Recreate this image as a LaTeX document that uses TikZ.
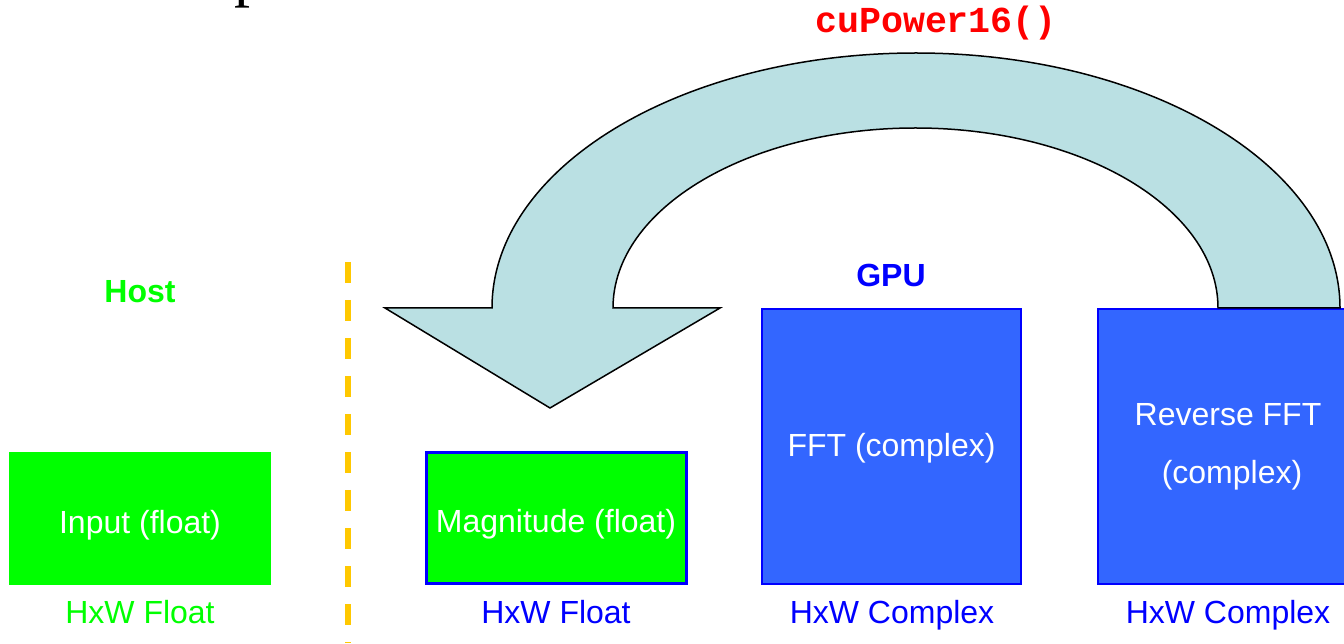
\documentclass[tikz,border=0pt]{standalone}
\usepackage{fontspec}
\setmainfont{Liberation Sans}
\newfontfamily\codefont{Liberation Mono}
\newfontfamily\seriffont{Liberation Serif}
\usepackage{xcolor}
\usepackage{tikz}
\definecolor{hostgreen}{HTML}{00FF00}
\definecolor{gpublue}{HTML}{3366FF}
\definecolor{edgeblue}{HTML}{0000FF}
\definecolor{arrowfill}{HTML}{BAE0E3}
\definecolor{sepgold}{HTML}{FFC800}
\definecolor{callred}{HTML}{FF0000}
\tikzset{
  buf/.style={inner sep=0pt, text=white, align=center,
              font=\fontsize{16}{29}\selectfont},
  floatbuf/.style={buf, fill=hostgreen, text height=14.5pt, text depth=0pt},
  cplxbuf/.style={buf, fill=gpublue, draw=edgeblue, line width=1pt,
                  minimum width=129.5pt, minimum height=137.5pt},
  lbl/.style={inner sep=0pt, anchor=base, font=\fontsize{16}{19}\selectfont},
  side/.style={lbl, font=\fontsize{16}{19}\selectfont\bfseries}
}

\begin{document}
\begin{tikzpicture}[x=0.5pt, y=0.5pt]
      \useasboundingbox (0,0) rectangle (1344,643);

      % buffers
      \node[floatbuf, minimum width=131pt, minimum height=66.5pt] (in) at (140,124.5) {Input (float)};
      \node[floatbuf, draw=edgeblue, line width=1.5pt,
            minimum width=130pt, minimum height=65pt] (mag) at (556,125) {Magnitude (float)};
      \node[cplxbuf, text height=10.5pt, text depth=0pt] (fft)  at (891.5,196.5) {FFT (complex)};
      \node[cplxbuf, minimum width=130pt] (rfft) at (1228,196.5) {Reverse FFT\\\hspace*{4pt}(complex)};

      % sizes
      \node[lbl, text=hostgreen] (inl)   at (140,20)  {HxW Float};
      \node[lbl, text=edgeblue]  (magl)  at (556,20)  {HxW Float};
      \node[lbl, text=edgeblue]  (fftl)  at (892,20)  {HxW Complex};
      \node[lbl, text=edgeblue]  (rfftl) at (1228,20) {HxW Complex};

      % sides
      \node[side, text=hostgreen] (host) at (140,340) {Host};
      \node[side, text=edgeblue]  (gpu)  at (891,356) {GPU};
      \coordinate (septop) at (348,381);
      \coordinate (sepbot) at (348,0);
      \draw[sepgold, line width=2.75pt, dash pattern=on 10.5pt off 8.5pt] (septop) -- (sepbot);

      % kernel
      \node[inner sep=0pt, anchor=base, text=callred,
            font=\fontsize{18.3}{22}\codefont\bfseries] (call) at (936,610) {cuPower16()};
      \node[inner sep=0pt, anchor=base west, font=\fontsize{32}{36}\seriffont] (cut) at (234,648) {p};
      \draw[fill=arrowfill, line width=0.75pt]
           (1340,335) arc[start angle=0, end angle=180, x radius=212pt, y radius=127.5pt]
           -- (385,335) -- (550,235) -- (720,335) -- (613,335)
           arc[start angle=180, end angle=0, x radius=151.25pt, y radius=90pt] -- cycle;
    \end{tikzpicture}
\end{document}
